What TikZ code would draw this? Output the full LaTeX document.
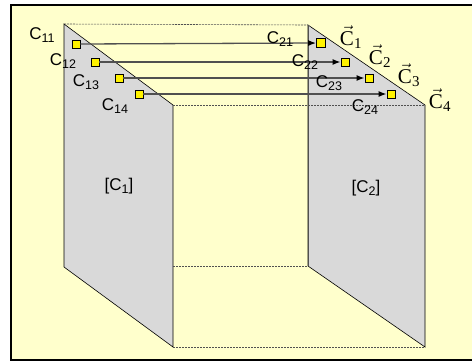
\documentclass[tikz,border=0pt]{standalone}
\usepackage{fontspec}
\setmainfont{Liberation Sans}
\newfontfamily\serifC{Liberation Serif}
\usetikzlibrary{arrows.meta}
\definecolor{bgyellow}{HTML}{FFFFCC}
\definecolor{panelgray}{HTML}{D9D9D9}
\definecolor{linegray}{HTML}{505050}
\tikzset{
  sq/.style={draw=black,fill=yellow,minimum width=8pt,minimum height=8pt,inner sep=0pt,line width=0.8pt},
  panel/.style={fill=panelgray,draw=black,line width=0.6pt},
  hid/.style={draw=linegray,dash pattern=on 2pt off 1pt,line width=0.6pt},
  conn/.style={draw=linegray,line width=1.3pt,-{Latex[length=8pt,width=6pt,color=black]}},
  lab/.style={font=\fontsize{17}{17}\selectfont,inner sep=0pt},
  vlab/.style={font=\fontsize{21}{21}\selectfont,inner sep=0pt},
}
\newcommand{\Cs}[1]{C\raisebox{-0.35ex}{\fontsize{12.5}{12.5}\selectfont #1}}
\newcommand{\vC}[1]{$\vec{\mbox{\serifC C}}_{\mbox{\serifC\fontsize{15}{15}\selectfont #1}}$}
\begin{document}
\begin{tikzpicture}[x=1pt,y=-1pt]
\useasboundingbox (0,0) rectangle (472,362);
\draw[fill=bgyellow,line width=2pt] (11,5) rectangle (480,360);
% panels
\coordinate (a1) at (64,24); \coordinate (a2) at (173,105);
\coordinate (a3) at (173,347); \coordinate (a4) at (64,267);
\coordinate (b1) at (308,25); \coordinate (b2) at (425,105);
\coordinate (b3) at (425,347); \coordinate (b4) at (308,266);
\draw[panel] (a1) -- (a2) -- (a3) -- (a4) -- cycle;
\draw[panel] (b1) -- (b2) -- (b3) -- (b4) -- cycle;
\draw[linegray,line width=0.8pt] (b1) -- (b4);
% hidden edges
\draw[hid] (a1) -- (b1);
\draw[hid] (a2) -- (b2);
\draw[hid] (a2 |- b4) -- (b4);
\draw[hid] (a3) -- (b3);
% panel labels
\node[lab] (p1) at (119,186) {[\Cs{1}]};
\node[lab] (p2) at (366,188) {[\Cs{2}]};
% squares
\node[sq] (s11) at (76,44) {};
\node[sq] (s12) at (95,62) {};
\node[sq] (s13) at (119,78) {};
\node[sq] (s14) at (139,94) {};
\node[sq,minimum width=9pt,minimum height=9pt] (s21) at (321,43) {};
\node[sq] (s22) at (345,62) {};
\node[sq] (s23) at (369,78) {};
\node[sq] (s24) at (391,94) {};
% connectors
\draw[conn] (s11.east) -- (s21.west);
\draw[conn] (s12.east) -- (s22.west);
\draw[conn] (s13.east) -- (s23.west);
\draw[conn] (s14.east) -- (s24.west);
% labels
\node[lab] (l11) at (42,35) {\Cs{11}};
\node[lab] (l12) at (63,61) {\Cs{12}};
\node[lab] (l13) at (86,82) {\Cs{13}};
\node[lab] (l14) at (115,106) {\Cs{14}};
\node[lab] (l21) at (280,39) {\Cs{21}};
\node[lab] (l22) at (305,62) {\Cs{22}};
\node[lab] (l23) at (329,83) {\Cs{23}};
\node[lab] (l24) at (365,107) {\Cs{24}};
% vector labels
\node[vlab] (v1) at (351,37) {\vC{1}};
\node[vlab] (v2) at (380,56) {\vC{2}};
\node[vlab] (v3) at (409,75) {\vC{3}};
\node[vlab] (v4) at (440,100) {\vC{4}};
\end{tikzpicture}
\end{document}
